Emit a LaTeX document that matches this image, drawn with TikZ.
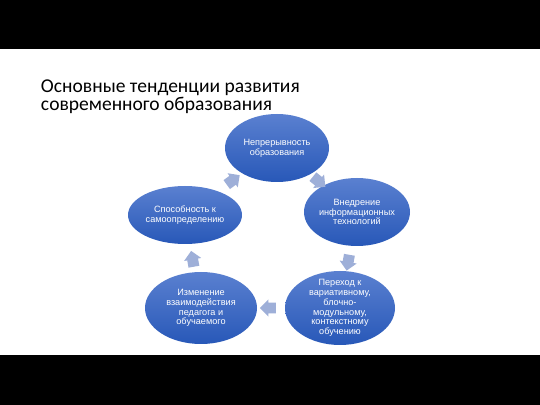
\documentclass[tikz,border=0pt]{standalone}
\usepackage{fontspec}
\setmainfont{Liberation Sans}
\newfontfamily\titlefont{Carlito}
\usetikzlibrary{shapes.geometric,shapes.arrows,calc}
\definecolor{ellipsetop}{RGB}{90,128,208}
\definecolor{ellipsebottom}{RGB}{40,88,184}
\definecolor{arrowfill}{RGB}{158,175,216}

\begin{document}
\begin{tikzpicture}[every node/.style={outer sep=0pt},
  trend/.style={ellipse, inner sep=-6pt, top color=ellipsetop, bottom color=ellipsebottom, text=white, align=center, font=\fontsize{6.5}{7}\selectfont},
  cyclearrow/.style={single arrow, draw=none, fill=arrowfill, minimum height=0.4cm, inner xsep=0pt, inner ysep=0.13cm, single arrow head extend=0.08cm}]
\useasboundingbox (0,0) rectangle (13.5,10.125);
\fill[white] (0,0) rectangle (13.5,10.125);
\fill[black] (0,0) rectangle (13.5,1.25);
\fill[black] (0,8.9) rectangle (13.5,10.125);

\node[anchor=north west, inner sep=0pt, align=left, font=\titlefont\fontsize{13.9}{12.6}\selectfont] (title) at (1.025,8.12) {Основные тенденции развития\\современного образования};

\node[trend, minimum width=2.6cm, minimum height=1.7cm] (continuity) at (6.925,6.425) {Непрерывность\\образования};
\node[trend, minimum width=2.65cm, minimum height=1.7cm] (itech) at (8.925,4.825) {Внедрение\\информационных\\технологий};
\node[trend, minimum width=2.75cm, minimum height=1.85cm] (variative) at (8.5,2.425) {Переход к\\вариативному,\\блочно-\\модульному,\\контекстному\\обучению};
\node[trend, minimum width=2.8cm, minimum height=1.8cm] (interaction) at (5.025,2.425) {Изменение\\взаимодействия\\педагога и\\обучаемого};
\node[trend, minimum width=2.85cm, minimum height=1.45cm] (selfdet) at (4.625,4.75) {Способность к\\самоопределению};

\node[cyclearrow, rotate=-39] (a1) at ($(continuity)!0.5!(itech)$) {};
\node[cyclearrow, rotate=-100] (a2) at ($(itech)!0.5!(variative)$) {};
\node[cyclearrow, rotate=180] (a3) at ($(variative)!0.5!(interaction)$) {};
\node[cyclearrow, rotate=100] (a4) at ($(interaction)!0.5!(selfdet)$) {};
\node[cyclearrow, rotate=36] (a5) at ($(selfdet)!0.5!(continuity)$) {};
\end{tikzpicture}
\end{document}
